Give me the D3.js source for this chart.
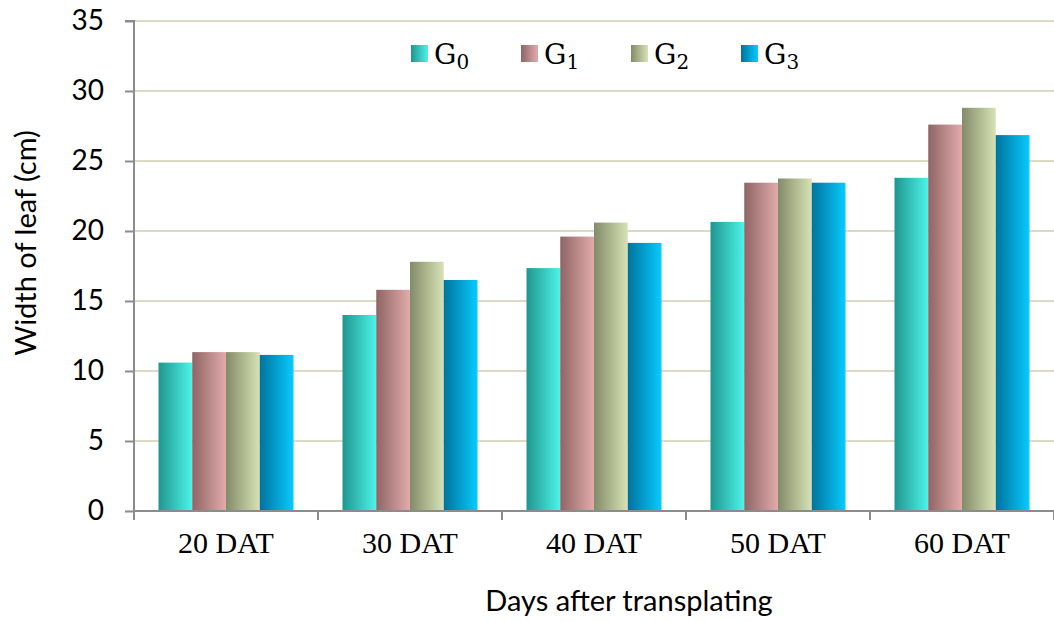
<!DOCTYPE html>
<html><head><meta charset="utf-8">
<script src="https://cdn.jsdelivr.net/npm/d3@7"></script>
<style>body{margin:0;background:#fff}svg{display:block}</style>
</head><body>
<svg id="c" width="1054" height="621"></svg>
<script>
const categories = ["20 DAT","30 DAT","40 DAT","50 DAT","60 DAT"];
const seriesNames = ["0","1","2","3"];
const G0 = [10.6, 14.0, 17.35, 20.65, 23.8];
const G1 = [11.35, 15.8, 19.6, 23.45, 27.6];
const G2 = [11.35, 17.8, 20.6, 23.75, 28.8];
const G3 = [11.15, 16.5, 19.15, 23.45, 26.85];
const yTicks = [0,5,10,15,20,25,30,35];
const gradStops = [["#1f968f","#4df3e9"],["#8f6565","#e2abab"],["#838b69","#d6e3b5"],["#00739c","#07cbff"]];

const series = [G0,G1,G2,G3];
const svg = d3.select("#c");
const L = 134, R = 1054, T = 21, B = 511;
const xOuter = d3.scaleBand().domain(categories).range([L, L + 184*5]);
const y = d3.scaleLinear().domain([0,35]).range([B, T]);
const xs = d3.scaleBand().domain(seriesNames).range([0, 135]);
const sans = "Lato, 'Open Sans', sans-serif";

const defs = svg.append("defs");
gradStops.forEach((s,i)=>{
  const g = defs.append("linearGradient").attr("id","g"+i).attr("x1","0").attr("x2","1").attr("y1","0").attr("y2","0");
  g.append("stop").attr("offset","0").attr("stop-color",s[0]);
  g.append("stop").attr("offset","1").attr("stop-color",s[1]);
});

// gridlines
svg.append("g").selectAll("line").data(yTicks.filter(d=>d>0)).join("line")
  .attr("x1",L).attr("x2",R).attr("y1",d=>y(d)).attr("y2",d=>y(d))
  .attr("stroke","#ddd9c3").attr("stroke-width",2);

// bars
const gcat = svg.append("g").selectAll("g").data(categories).join("g")
  .attr("transform",c=>`translate(${xOuter(c) + (184-135)/2},0)`);
gcat.selectAll("rect").data((c,ci)=>series.map((s,si)=>({si, v:s[ci]}))).join("rect")
  .attr("x",d=>xs(seriesNames[d.si])).attr("width",xs.bandwidth())
  .attr("y",d=>y(d.v)).attr("height",d=>B - y(d.v))
  .attr("fill",d=>`url(#g${d.si})`);

// y axis
const yAxis = d3.axisLeft(y).tickValues(yTicks).tickSize(9).tickPadding(21).tickFormat(d3.format("d"));
const ya = svg.append("g").attr("transform",`translate(${L},0)`).call(yAxis);
ya.select(".domain").attr("stroke","#8c8c8c").attr("stroke-width",2).attr("d",`M-9,${T}H0V${B}`);
ya.selectAll(".tick line").attr("stroke","#8c8c8c").attr("stroke-width",2);
ya.selectAll(".tick text").attr("font-family",sans).attr("font-size",28).attr("fill","#000");

// x axis
const xAxis = d3.axisBottom(xOuter).tickSize(0).tickPadding(0);
const xa = svg.append("g").attr("transform",`translate(0,${B})`).call(xAxis);
xa.select(".domain").attr("stroke","#8c8c8c").attr("stroke-width",2).attr("d",`M${L},0H${R}`);
xa.selectAll(".tick text").attr("font-family","'Liberation Serif', 'Times New Roman', serif").attr("font-size",30).attr("fill","#000").attr("y",42).attr("dy",0);
// category boundary ticks
xa.append("g").selectAll("line").data(d3.range(6)).join("line")
  .attr("x1",i=>L+184*i).attr("x2",i=>L+184*i).attr("y1",0).attr("y2",9)
  .attr("stroke","#8c8c8c").attr("stroke-width",2);

// axis titles
svg.append("text").attr("x",629).attr("y",611).attr("text-anchor","middle")
  .attr("font-family",sans).attr("font-size",29).text("Days after transplating");
svg.append("text").attr("transform","translate(36,243) rotate(-90)").attr("text-anchor","middle")
  .attr("font-family",sans).attr("font-size",29).text("Width of leaf (cm)");

// legend
const lg = svg.append("g").selectAll("g").data(seriesNames).join("g")
  .attr("transform",(d,i)=>`translate(${411 + i*110},45)`);
lg.append("rect").attr("width",17).attr("height",17).attr("fill",(d,i)=>`url(#g${i})`);
const lt = lg.append("text").attr("x",23).attr("y",19)
  .attr("font-family","'DejaVu Serif', 'Liberation Serif', serif").attr("font-size",28).attr("fill","#000");
lt.append("tspan").text("G");
lt.append("tspan").attr("font-size",20).attr("dy",5).text(d=>d);
</script>
</body></html>
